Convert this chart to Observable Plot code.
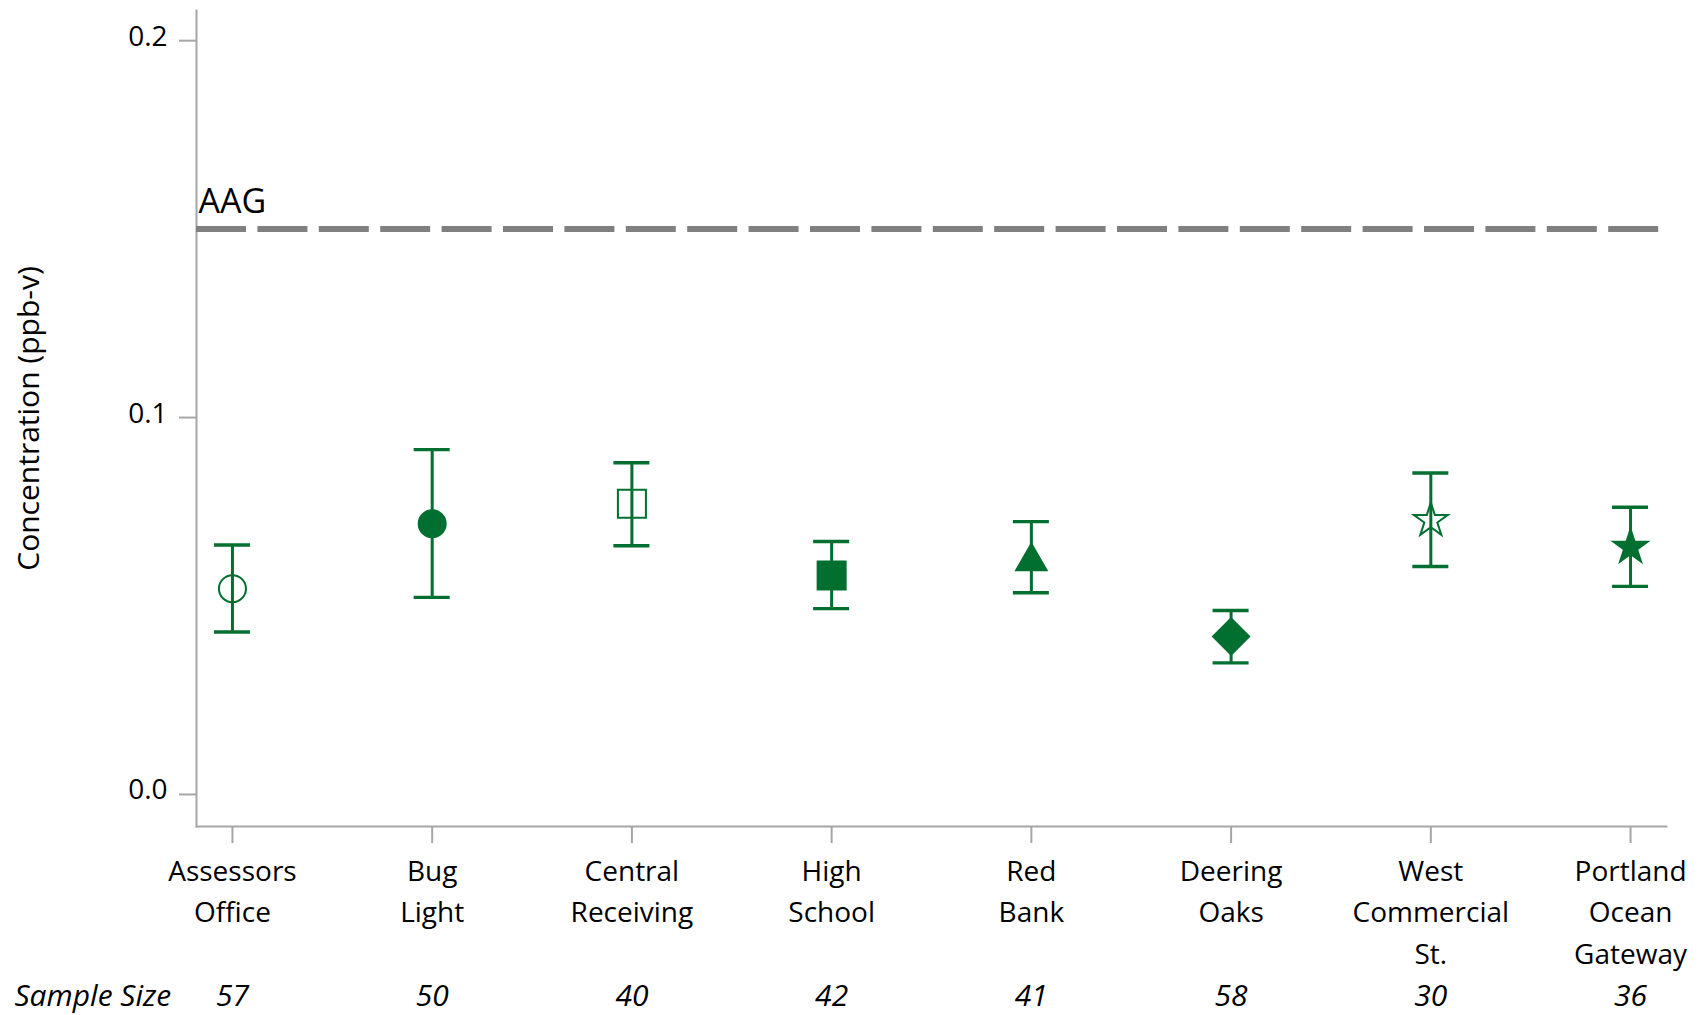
<!DOCTYPE html>
<html>
<head>
<meta charset="utf-8">
<script src="https://cdn.jsdelivr.net/npm/d3@7"></script>
<script src="https://cdn.jsdelivr.net/npm/@observablehq/plot@0.6"></script>
<style>
  html, body { margin: 0; padding: 0; background: #fff; }
  #chart svg { display: block; overflow: visible; }
</style>
</head>
<body>
<div id="chart"></div>
<script>
// Monitoring sites (line breaks as shown under the axis)
const sites = [
  "Assessors\nOffice", "Bug\nLight", "Central\nReceiving", "High\nSchool",
  "Red\nBank", "Deering\nOaks", "West\nCommercial\nSt.", "Portland\nOcean\nGateway"
];
// Mean concentration (ppb-v) and confidence interval bounds
const means = [0.0546, 0.0718, 0.0771, 0.0581, 0.0630, 0.0419, 0.0727, 0.0656];
const lower = [0.0431, 0.0523, 0.0660, 0.0493, 0.0535, 0.0349, 0.0605, 0.0552];
const upper = [0.0662, 0.0915, 0.0880, 0.0671, 0.0724, 0.0488, 0.0853, 0.0762];
const sampleSizes = [57, 50, 40, 42, 41, 58, 30, 36];
// Marker shape and fill for each site
const shapes = ["round", "round", "box", "box", "wedge", "rhombus", "pentagram", "pentagram"];
const filled = [false, true, false, true, true, true, false, true];
// Ambient air guideline
const aag = 0.15;
const yTicks = [0, 0.1, 0.2];
const yDomain = [-0.0085, 0.208];

const green = "#006F2F";
const axisGray = "#A6A6A6";

const rows = sites.map((site, i) => ({
  site, mean: means[i], lo: lower[i], hi: upper[i],
  n: sampleSizes[i], shape: shapes[i], filled: filled[i]
}));

// Upward triangle centred on its bounding box rather than its centroid
const triangleBox = {
  draw(context, size) {
    const a = Math.sqrt(size / (Math.sqrt(3) * 3));
    context.moveTo(0, -1.5 * a);
    context.lineTo(Math.sqrt(3) * a, 1.5 * a);
    context.lineTo(-Math.sqrt(3) * a, 1.5 * a);
    context.closePath();
  }
};
// Square turned 45°
const rhombus = {
  draw(context, size) {
    const h = Math.sqrt(size) / Math.SQRT2;
    context.moveTo(0, -h);
    context.lineTo(h, 0);
    context.lineTo(0, h);
    context.lineTo(-h, 0);
    context.closePath();
  }
};
const shapeKinds = ["round", "box", "wedge", "rhombus", "pentagram"];
const shapeSymbols = [d3.symbolCircle, d3.symbolSquare, triangleBox, rhombus, d3.symbolStar];
const shapeRadius = {round: 13.5, box: 15.8, wedge: 11.3, rhombus: 14.4, pentagram: 10.7};

const chart = Plot.plot({
  width: 1701,
  height: 1015,
  marginLeft: 196,
  marginRight: 35,
  marginTop: 10,
  marginBottom: 189,
  style: {fontFamily: "'Open Sans', sans-serif", fontSize: "28px", color: "#000", background: "#fff"},
  x: {type: "point", domain: sites, padding: 0.18, round: false, axis: null},
  y: {domain: yDomain, axis: null},
  symbol: {domain: shapeKinds, range: shapeSymbols},
  r: {type: "identity"},
  color: {type: "identity"},
  marks: [
    Plot.frame({anchor: "left", stroke: axisGray, strokeWidth: 2}),
    Plot.frame({anchor: "bottom", stroke: axisGray, strokeWidth: 2}),
    // y ticks, then their labels sitting slightly above each tick
    Plot.axisY({
      ticks: yTicks, tickFormat: () => "", tickSize: 17,
      stroke: axisGray, strokeWidth: 2, label: null
    }),
    Plot.axisY({
      ticks: yTicks, tickFormat: ".1f", tickSize: 0, tickPadding: 29,
      fill: "#000", fontSize: 28, dy: -4, label: null
    }),
    Plot.axisX({
      tickSize: 17, tickPadding: 8, stroke: axisGray, strokeWidth: 2,
      fill: "#000", fontSize: 28, lineHeight: 1.48, label: null
    }),
    // AAG reference line and its label
    Plot.ruleY([aag], {stroke: "#808080", strokeWidth: 6, strokeDasharray: "50,11.4"}),
    Plot.text([aag], {
      y: d => d, text: () => "AAG", frameAnchor: "left", textAnchor: "start",
      lineAnchor: "bottom", dx: 2, dy: -16, fontSize: 34, fill: "#000"
    }),
    // Confidence intervals with caps
    Plot.ruleX(rows, {x: "site", y1: "lo", y2: "hi", stroke: green, strokeWidth: 3}),
    Plot.ruleY(rows, {x1: "site", x2: "site", y: "hi", insetLeft: -18, insetRight: -18, stroke: green, strokeWidth: 3.4}),
    Plot.ruleY(rows, {x1: "site", x2: "site", y: "lo", insetLeft: -18, insetRight: -18, stroke: green, strokeWidth: 3.4}),
    // Site means
    Plot.dot(rows, {
      x: "site", y: "mean", symbol: "shape",
      r: d => shapeRadius[d.shape],
      fill: d => d.filled ? green : "none",
      stroke: green, strokeWidth: 2
    }),
    // Sample size row
    Plot.text(["Sample Size"], {
      frameAnchor: "bottom-left", textAnchor: "start", lineAnchor: "bottom",
      dx: -182, dy: 179, fontStyle: "italic", fontSize: 30, fill: "#000"
    }),
    Plot.text(rows, {
      x: "site", text: "n", frameAnchor: "bottom", lineAnchor: "bottom",
      dy: 179, fontStyle: "italic", fontSize: 30, fill: "#000"
    }),
    // Vertical axis title
    Plot.text(["Concentration (ppb-v)"], {
      frameAnchor: "left", rotate: -90, dx: -167, textAnchor: "middle",
      lineAnchor: "middle", fontSize: 30, fill: "#000"
    })
  ]
});

document.getElementById("chart").appendChild(chart);
</script>
</body>
</html>
